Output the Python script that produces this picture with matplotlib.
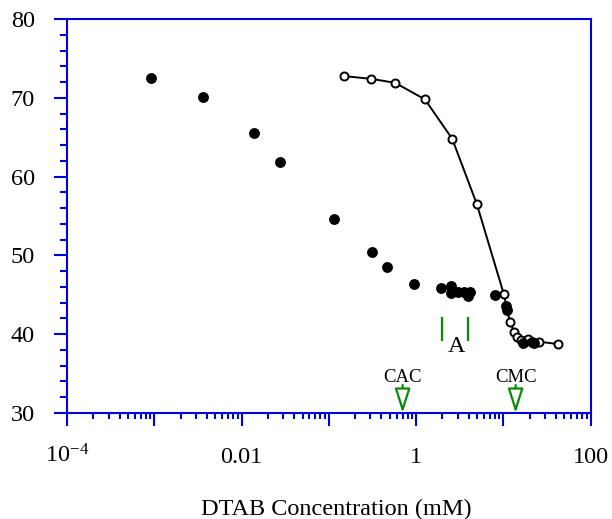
import numpy as np
import matplotlib
matplotlib.use("Agg")
import matplotlib.pyplot as plt
from matplotlib.ticker import FixedLocator, LogLocator, MultipleLocator, FuncFormatter, NullFormatter

plt.rcParams['font.family'] = ['Liberation Serif', 'DejaVu Serif']
plt.rcParams['mathtext.fontset'] = 'custom'
plt.rcParams['mathtext.rm'] = 'Liberation Serif'
plt.rcParams['mathtext.it'] = 'Liberation Serif:italic'

# Surface tension of DTAB alone (open) and with additive (filled), mN/m vs mM
conc_filled = [0.000916, 0.00361, 0.0139, 0.0275, 0.114, 0.311, 0.462, 0.942,
               1.92, 2.53, 2.50, 3.00, 3.52, 4.12, 3.91, 7.96, 10.65, 10.85,
               16.55, 20.98, 22.3]
tension_filled = [72.5, 70.1, 65.5, 61.85, 54.6, 50.4, 48.5, 46.4,
                  45.9, 46.1, 45.2, 45.35, 45.4, 45.35, 44.85, 44.95, 43.6, 43.1,
                  38.9, 39.05, 38.9]

conc_open = [0.151, 0.308, 0.575, 1.26, 2.59, 4.96, 10.1, 11.84, 13.27,
             14.35, 15.7, 19.2, 25.6, 42.3]
tension_open = [72.75, 72.4, 71.9, 69.8, 64.8, 56.5, 45.1, 41.6, 40.3,
                39.7, 39.25, 39.35, 39.05, 38.75]

cac = 0.70
cmc = 13.8
region_a = [2.0, 3.9]
region_a_span = (39.3, 42.0)

x_labels = {-4: r'$10^{-4}$', -2: '0.01', 0: '1', 2: '100'}

blue = '#0000dd'
green = '#0a8a0a'

fig = plt.figure(figsize=(6.12, 5.19), dpi=100)
ax = fig.add_axes([67 / 612, 1 - 413 / 519, (590.7 - 67) / 612, (413 - 19) / 519])

ax.plot(conc_open, tension_open, '-', color='black', lw=1.4, zorder=3)
ax.plot(conc_open, tension_open, 'o', ms=5.8, mfc='white', mec='black', mew=1.4, zorder=4)
ax.plot(conc_filled, tension_filled, 'o', ms=6.8, color='black', zorder=5)

ax.set_xscale('log')
ax.set_xlim(1e-4, 100)
ax.set_ylim(30, 80)

ax.xaxis.set_major_locator(FixedLocator([10.0 ** e for e in range(-4, 3)]))
ax.xaxis.set_major_formatter(FuncFormatter(
    lambda v, pos: x_labels.get(int(round(np.log10(v))), '')))
ax.xaxis.set_minor_locator(LogLocator(base=10, subs=np.arange(2, 10), numticks=50))
ax.xaxis.set_minor_formatter(NullFormatter())
ax.yaxis.set_major_locator(MultipleLocator(10))
ax.yaxis.set_minor_locator(MultipleLocator(2))

for s in ax.spines.values():
    s.set_color(blue)
    s.set_linewidth(1.5)

ax.tick_params(axis='x', which='major', direction='out', length=9.1, width=1.5,
               color=blue, labelsize=17.5, pad=26.6, top=False)
ax.tick_params(axis='x', which='minor', direction='out', length=4.5, width=1.5,
               color=blue, top=False)
ax.tick_params(axis='y', which='major', direction='out', length=9.6, width=1.5,
               color=blue, labelsize=17.5, pad=13.7, right=False)
ax.tick_params(axis='y', which='minor', direction='out', length=5.3, width=1.5,
               color=blue, right=False)
for lab in ax.get_xticklabels():
    lab.set_verticalalignment('baseline')

# CAC / CMC markers
for xv, name in [(cac, 'CAC'), (cmc, 'CMC')]:
    ax.annotate('', xy=(xv, 30), xytext=(xv, 33.55),
                arrowprops=dict(arrowstyle='-|>,head_length=1.5,head_width=0.48',
                                fc='white', ec=green, lw=1.6, shrinkA=0, shrinkB=0,
                                mutation_scale=10),
                annotation_clip=False, zorder=6)
    ax.text(xv, 33.95, name, ha='center', va='baseline', fontsize=13.5, color='black')

# Region A bracket
for xv in region_a:
    ax.plot([xv, xv], region_a_span, color=green, lw=1.6, zorder=6)
ax.text(np.sqrt(region_a[0] * region_a[1]) * 1.05, 37.8, 'A', ha='center', va='baseline',
        fontsize=17.5)

fig.text(336 / 612, 4 / 519, 'DTAB Concentration (mM)', ha='center', va='baseline',
         fontsize=17.5)

fig.savefig('out.png', dpi=100)
